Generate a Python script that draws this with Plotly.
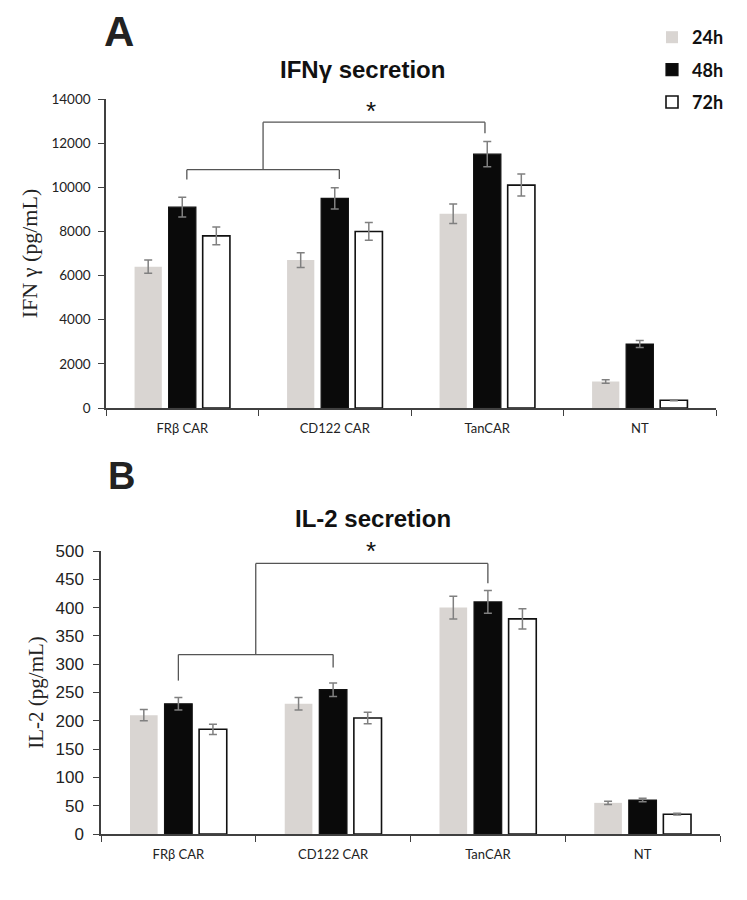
import plotly.graph_objects as go

groups = ["FRβ CAR", "CD122 CAR", "TanCAR", "NT"]
times = ["24h", "48h", "72h"]

# panel A: IFNγ (pg/mL)
ifng_24 = [6400, 6700, 8800, 1200]
ifng_48 = [9100, 9500, 11500, 2900]
ifng_72 = [7800, 8000, 10100, 350]
ifng_24_err = [300, 330, 440, 80]
ifng_48_err = [450, 480, 570, 160]
ifng_72_err = [400, 400, 500, 20]

# panel B: IL-2 (pg/mL)
il2_24 = [210, 230, 400, 55]
il2_48 = [230, 255, 410, 60]
il2_72 = [185, 205, 380, 35]
il2_24_err = [10, 11, 20, 3]
il2_48_err = [11, 12, 20, 3]
il2_72_err = [9, 10, 18, 1.5]

fill = {"24h": "#d9d5d2", "48h": "#0a0a0a", "72h": "#ffffff"}
edge = {"24h": 0, "48h": 1.2, "72h": 1.6}

# page has an 8px body margin, so the figure is 739x892 and positions are screen px minus 8
W, H, OFF = 739, 892, 8


def px(x):
    return (x - OFF) / W


def py(y):
    return 1 - (y - OFF) / H


fig = go.Figure()


def add_panel(vals, errs, xa, ya, show):
    for t, v, e in zip(times, vals, errs):
        fig.add_trace(go.Bar(
            x=groups, y=v, name=t, xaxis=xa, yaxis=ya,
            legendgroup=t, showlegend=show,
            marker=dict(color=fill[t], line=dict(color="#111111", width=edge[t])),
            error_y=dict(type="data", array=e, color="#808080", thickness=1.5, width=4),
        ))


add_panel([ifng_24, ifng_48, ifng_72], [ifng_24_err, ifng_48_err, ifng_72_err], "x", "y", True)
add_panel([il2_24, il2_48, il2_72], [il2_24_err, il2_48_err, il2_72_err], "x2", "y2", False)

axis_line = dict(showline=True, linecolor="#404040", linewidth=1.5, showgrid=False,
                 zeroline=False, ticks="outside", ticklen=6, tickcolor="#404040")

fig.update_layout(
    width=W, height=H,
    margin=dict(l=0, r=0, t=0, b=0),
    paper_bgcolor="white", plot_bgcolor="white",
    barmode="group", bargap=0.33, bargroupgap=0.2,
    xaxis=dict(domain=[px(106), px(716)], anchor="y", tickson="boundaries", ticklabelstandoff=8,
               tickfont=dict(family="Lato", size=13, color="#222"), **axis_line),
    yaxis=dict(domain=[py(408), py(99)], anchor="x", range=[0, 14000], dtick=2000,
               tickformat="d", automargin=False, ticklabelstandoff=5,
               tickfont=dict(family="Lato", size=13.5, color="#222"),
               title=dict(text="IFN γ (pg/mL)", standoff=8,
                          font=dict(family="Liberation Serif", size=22, color="#222")),
               **axis_line),
    xaxis2=dict(domain=[px(101), px(720)], anchor="y2", tickson="boundaries", ticklabelstandoff=8,
                tickfont=dict(family="Lato", size=13, color="#222"), **axis_line),
    yaxis2=dict(domain=[py(834), py(551)], anchor="x2", range=[0, 500], dtick=50,
                automargin=False, ticklabelstandoff=6,
                tickfont=dict(family="Liberation Sans", size=17, color="#222"),
                title=dict(text="IL-2 (pg/mL)", standoff=6,
                           font=dict(family="Liberation Serif", size=21, color="#222")),
                **axis_line),
    legend=dict(x=px(652), y=py(19), xanchor="left", yanchor="top",
                font=dict(family="Lato", size=18, color="#111", weight="bold"),
                tracegroupgap=6, itemwidth=30, bgcolor="rgba(0,0,0,0)"),
    showlegend=True,
)

# significance brackets: (x0, x1, level, left drop, right drop)
brackets = [
    ("x", "y", [(0.03, 1.03, 10800, 10350, 10380), (0.53, 1.985, 12950, None, 12450)], (1.24, 13450)),
    ("x2", "y2", [(0.0, 1.0, 317, 271, 294), (0.5, 2.0, 478, None, 443)], (1.245, 500)),
]
for xr, yr, segs, star in brackets:
    for x0, x1, lvl, l_drop, r_drop in segs:
        fig.add_shape(type="line", xref=xr, yref=yr, x0=x0, x1=x1, y0=lvl, y1=lvl,
                      line=dict(color="#555", width=1.3))
        if l_drop is not None:
            fig.add_shape(type="line", xref=xr, yref=yr, x0=x0, x1=x0, y0=l_drop, y1=lvl,
                          line=dict(color="#555", width=1.3))
        fig.add_shape(type="line", xref=xr, yref=yr, x0=x1, x1=x1, y0=r_drop, y1=lvl,
                      line=dict(color="#555", width=1.3))
    # vertical joining lower bracket to upper one
    fig.add_shape(type="line", xref=xr, yref=yr, x0=segs[1][0], x1=segs[1][0],
                  y0=segs[0][2], y1=segs[1][2], line=dict(color="#555", width=1.3))
    fig.add_annotation(x=star[0], y=star[1], xref=xr, yref=yr, text="*", showarrow=False,
                       xanchor="center", yanchor="middle",
                       font=dict(family="Liberation Sans", size=26, color="#111"))

# titles and panel letters
labels = [
    ("<b>IFNγ secretion</b>", 362, 70, 24, "#111"),
    ("<b>IL-2 secretion</b>", 373, 518, 24, "#111"),
    ("<b>A</b>", 119, 31.5, 42, "#222"),
    ("<b>B</b>", 121, 476, 38, "#222"),
]
for text, x, y, size, col in labels:
    fig.add_annotation(x=px(x), y=py(y), xref="paper", yref="paper", text=text,
                       showarrow=False, xanchor="center", yanchor="middle",
                       font=dict(family="Liberation Sans", size=size, color=col))

fig.write_html("out.html")
